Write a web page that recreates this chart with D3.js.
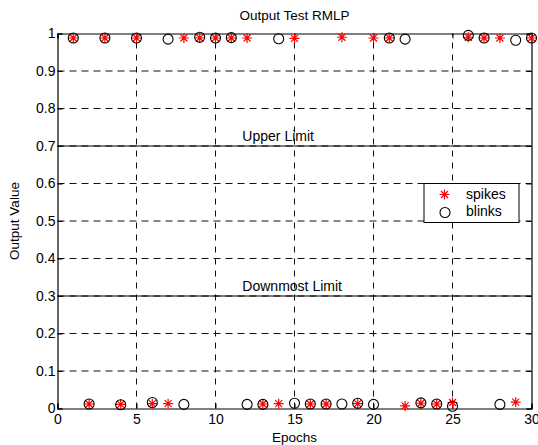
<!DOCTYPE html>
<html>
<head>
<meta charset="utf-8">
<script src="https://cdn.jsdelivr.net/npm/d3@7"></script>
<style>
  body { margin: 0; background: #fff; }
  text { font-family: "Liberation Sans", Arial, sans-serif; fill: #000; }
</style>
</head>
<body>
<div id="chart"></div>
<script>
// 1. data
var epochs = d3.range(1, 31);
var spikes = [0.988, 0.012, 0.988, 0.011, 0.988, 0.013, 0.013, 0.988, 0.988, 0.988,
              0.988, 0.988, 0.012, 0.013, 0.987, 0.012, 0.012, 0.990, 0.013, 0.988,
              0.988, 0.007, 0.014, 0.012, 0.016, 0.990, 0.988, 0.988, 0.017, 0.988];
var blinks = [0.988, 0.012, 0.988, 0.010, 0.988, 0.016, 0.985, 0.011, 0.990, 0.988,
              0.989, 0.011, 0.011, 0.986, 0.014, 0.012, 0.012, 0.012, 0.014, 0.011,
              0.988, 0.985, 0.015, 0.012, 0.006, 0.995, 0.988, 0.011, 0.982, 0.988];
var xTicks = [0, 5, 10, 15, 20, 25, 30];
var yTicks = [0, 0.1, 0.2, 0.3, 0.4, 0.5, 0.6, 0.7, 0.8, 0.9, 1];
var yTickLabels = ["0", "0.1", "0.2", "0.3", "0.4", "0.5", "0.6", "0.7", "0.8", "0.9", "1"];
var limits = [{ value: 0.7, label: "Upper Limit" }, { value: 0.3, label: "Downmost Limit" }];
var limitLabelX = 11.7;
var seriesNames = ["spikes", "blinks"];

// 2. svg and scales
var width = 538, height = 445;
var pLeft = 57.5, pRight = 531.5, pTop = 33.5, pBottom = 408.5;

var svg = d3.select("#chart").append("svg")
  .attr("width", width)
  .attr("height", height);

var x = d3.scaleLinear().domain([0, 30]).range([pLeft, pRight]);
var y = d3.scaleLinear().domain([0, 1]).range([pBottom, pTop]);

// grid
svg.append("g").selectAll("line")
  .data(yTicks.slice(1, -1))
  .enter().append("line")
  .attr("x1", pLeft).attr("x2", pRight)
  .attr("y1", function(d) { return y(d); })
  .attr("y2", function(d) { return y(d); })
  .attr("stroke", "#111")
  .attr("stroke-dasharray", "7,5");

svg.append("g").selectAll("line")
  .data(xTicks.slice(1, -1))
  .enter().append("line")
  .attr("y1", pBottom).attr("y2", pTop)
  .attr("x1", function(d) { return x(d); })
  .attr("x2", function(d) { return x(d); })
  .attr("stroke", "#111")
  .attr("stroke-dasharray", "6,6");

// limit lines
var lim = svg.append("g").selectAll("g").data(limits).enter().append("g");
lim.append("line")
  .attr("x1", pLeft).attr("x2", pRight)
  .attr("y1", function(d) { return y(d.value); })
  .attr("y2", function(d) { return y(d.value); })
  .attr("stroke", "#000");
lim.append("text")
  .attr("x", x(limitLabelX))
  .attr("y", function(d) { return y(d.value) - 5; })
  .style("font-size", "14px")
  .text(function(d) { return d.label; });

// 3. axes (ticks inward, box)
svg.append("g")
  .attr("transform", "translate(0," + pBottom + ")")
  .call(d3.axisBottom(x).tickValues(xTicks).tickSize(-5).tickPadding(6).tickFormat(d3.format("d")));
svg.append("g")
  .attr("transform", "translate(" + pLeft + ",0)")
  .call(d3.axisLeft(y).tickValues(yTicks).tickSize(-5).tickPadding(2)
    .tickFormat(function(d, i) { return yTickLabels[i]; }));
svg.append("g")
  .attr("transform", "translate(0," + pTop + ")")
  .call(d3.axisTop(x).tickValues(xTicks).tickSize(-5).tickFormat(""));
svg.append("g")
  .attr("transform", "translate(" + pRight + ",0)")
  .call(d3.axisRight(y).tickValues(yTicks).tickSize(-5).tickFormat(""));

svg.selectAll(".domain").attr("stroke", "#000").attr("stroke-width", 1.2);
svg.selectAll(".tick line").attr("stroke", "#000");
svg.selectAll(".tick text")
  .style("font-family", "'Liberation Sans', Arial, sans-serif")
  .style("font-size", "14px")
  .attr("fill", "#000");

// 4. markers
function star(g, cx, cy) {
  g.append("path")
    .attr("d", "M" + (cx - 5) + "," + cy + "H" + (cx + 5) +
               "M" + cx + "," + (cy - 5) + "V" + (cy + 5) +
               "M" + (cx - 3.5) + "," + (cy - 3.5) + "L" + (cx + 3.5) + "," + (cy + 3.5) +
               "M" + (cx - 3.5) + "," + (cy + 3.5) + "L" + (cx + 3.5) + "," + (cy - 3.5))
    .attr("stroke", "#ff0000")
    .attr("stroke-width", 1.2)
    .attr("fill", "none");
}

var marks = svg.append("g");
epochs.forEach(function(e, i) {
  star(marks, x(e), y(spikes[i]));
});
marks.selectAll("circle")
  .data(epochs)
  .enter().append("circle")
  .attr("cx", function(d) { return x(d); })
  .attr("cy", function(d, i) { return y(blinks[i]); })
  .attr("r", 5)
  .attr("fill", "none")
  .attr("stroke", "#000")
  .attr("stroke-width", 1.1);

// 5. legend
var leg = svg.append("g");
leg.append("rect")
  .attr("x", 424).attr("y", 183.5)
  .attr("width", 95).attr("height", 39)
  .attr("fill", "#fff")
  .attr("stroke", "#000");
star(leg, 444.5, 194.5);
leg.append("circle")
  .attr("cx", 445).attr("cy", 212.5).attr("r", 5)
  .attr("fill", "none").attr("stroke", "#000").attr("stroke-width", 1.1);
leg.selectAll("text")
  .data(seriesNames)
  .enter().append("text")
  .attr("x", 466)
  .attr("y", function(d, i) { return 199 + i * 17; })
  .style("font-size", "14px")
  .text(function(d) { return d; });

// titles
svg.append("text")
  .attr("x", (pLeft + pRight) / 2).attr("y", 20)
  .attr("text-anchor", "middle")
  .style("font-size", "13.5px")
  .text("Output Test RMLP");
svg.append("text")
  .attr("x", (pLeft + pRight) / 2).attr("y", 442)
  .attr("text-anchor", "middle")
  .style("font-size", "13.5px")
  .text("Epochs");
svg.append("text")
  .attr("transform", "translate(19," + ((pTop + pBottom) / 2) + ") rotate(-90)")
  .attr("text-anchor", "middle")
  .style("font-size", "13.5px")
  .text("Output Value");
</script>
</body>
</html>
